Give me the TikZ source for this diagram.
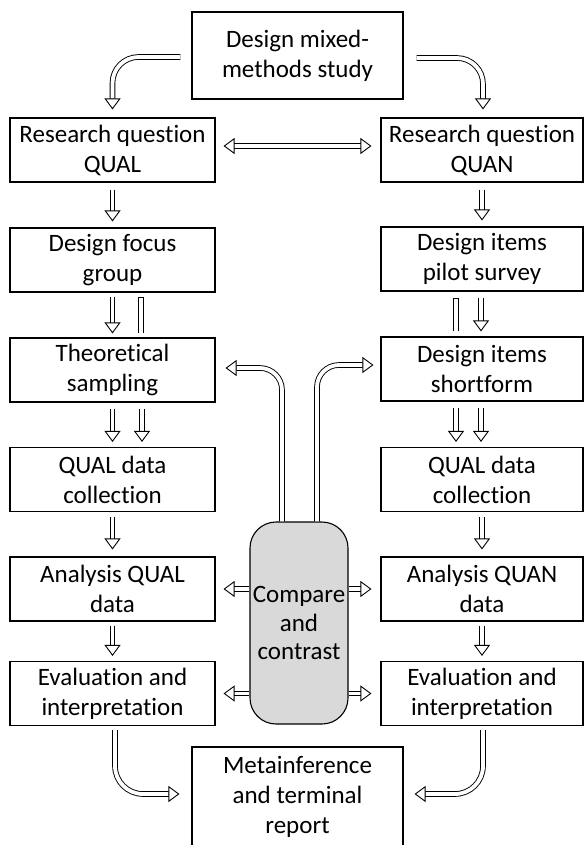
\documentclass[tikz,border=0pt]{standalone}
\usepackage{fontspec}
\setmainfont[Ligatures=NoCommon]{Carlito}
\usetikzlibrary{arrows.meta}
\definecolor{capgray}{RGB}{217,217,217}
\begin{document}
\begin{tikzpicture}[x=1pt,y=-1pt,
  box/.style={draw, line width=1.1pt, align=center, inner sep=0pt, font=\fontsize{25}{30}\selectfont},
  lbox/.style={box, minimum width=205pt, minimum height=64pt},
  rbox/.style={box, minimum width=202pt, minimum height=64pt},
  pipe/.style={double=white, double distance=3.8pt, line width=0.9pt},
  barpipe/.style={pipe, {Bar[width=5.6pt, line width=0.9pt]}-},
  arr/.style={pipe, -{Triangle[open, length=11pt, width=16pt, line width=0.9pt]}},
  darr/.style={pipe, {Triangle[open, length=11pt, width=16pt, line width=0.9pt]}-{Triangle[open, length=11pt, width=16pt, line width=0.9pt]}}
]
\useasboundingbox (0,0) rectangle (583,845);
\node[box, minimum width=211pt, minimum height=87pt] (t) at (297.5,55.5) {Design mixed-\\methods study};
\node[lbox] (rql) at (112.5,150) {Research question\\QUAL};
\node[rbox] (rqn) at (482,150) {Research question\\QUAN};
\node[lbox] (dfg) at (112.5,260) {Design focus\\group};
\node[rbox] (dip) at (482,259) {Design items\\pilot survey};
\node[lbox] (ts) at (112.5,370) {Theoretical\\sampling};
\node[rbox] (dis) at (482,369) {Design items\\shortform};
\node[lbox] (qcl) at (112.5,479.5) {QUAL data\\collection};
\node[rbox] (qcr) at (482,479.5) {QUAL data\\collection};
\node[lbox] (aql) at (112.5,589) {Analysis QUAL\\data};
\node[rbox] (aqn) at (482,589) {Analysis QUAN\\data};
\node[lbox] (evl) at (112.5,693.5) {Evaluation and\\interpretation};
\node[rbox] (evr) at (482,693.5) {Evaluation and\\interpretation};
\node[box, minimum width=211pt, minimum height=100pt] (meta) at (297.5,797) {Metainference\\and terminal\\report};
\node[box, fill=capgray, rounded corners=26pt, minimum width=98pt, minimum height=202pt, font=\fontsize{25}{28.5}\selectfont] (cc) at (299,623) {Compare\\and\\contrast};

% top curved arrows
\draw[arr, rounded corners=26pt] ([xshift=-11pt,yshift=-1.5pt]t.west) -| ([yshift=8pt]rql.north);
\draw[arr, rounded corners=26pt] ([xshift=13pt,yshift=-2.5pt]t.east) -| ([xshift=1pt,yshift=8pt]rqn.north);
% double arrow between research questions
\draw[darr] ([xshift=8pt,yshift=4pt]rql.east) -- ([xshift=-9pt,yshift=4pt]rqn.west);

% left column
\draw[arr] ([yshift=-7pt]rql.south) -- ([yshift=6pt]dfg.north);
\draw[arr] ([yshift=-4pt]dfg.south) -- ([yshift=4pt]ts.north);
\draw[barpipe] ([xshift=28.5pt,yshift=-4pt]dfg.south) -- ([xshift=28.5pt,yshift=4pt]ts.north);
\draw[arr] ([yshift=-6pt]ts.south) -- ([yshift=5pt]qcl.north);
\draw[arr] ([xshift=29.5pt,yshift=-6pt]ts.south) -- ([xshift=29.5pt,yshift=5pt]qcl.north);
\draw[arr] ([yshift=-5pt]qcl.south) -- ([yshift=7pt]aql.north);
\draw[arr] ([yshift=-4pt]aql.south) -- ([yshift=5pt]evl.north);

% right column
\draw[arr] ([yshift=-7pt]rqn.south) -- ([yshift=6pt]dip.north);
\draw[barpipe] ([xshift=-26pt,yshift=-6pt]dip.south) -- ([xshift=-26pt,yshift=5pt]dis.north);
\draw[arr] ([xshift=-1pt,yshift=-6pt]dip.south) -- ([xshift=-1pt,yshift=5pt]dis.north);
\draw[arr] ([xshift=-26pt,yshift=-6pt]dis.south) -- ([xshift=-26pt,yshift=5pt]qcr.north);
\draw[arr] ([xshift=-1pt,yshift=-6pt]dis.south) -- ([xshift=-1pt,yshift=5pt]qcr.north);
\draw[arr] ([yshift=-5pt]qcr.south) -- ([yshift=7pt]aqn.north);
\draw[arr] ([yshift=-4pt]aqn.south) -- ([yshift=5pt]evr.north);

% compare and contrast connections
\draw[arr, rounded corners=22pt] ([xshift=-17pt]cc.north) |- ([xshift=10pt,yshift=2pt]ts.east);
\draw[arr, rounded corners=22pt] ([xshift=18pt]cc.north) |- ([xshift=-7pt,yshift=4pt]dis.west);
\draw[arr] (cc.west |- aql.east) -- ([xshift=8pt]aql.east);
\draw[arr] (cc.east |- aqn.west) -- ([xshift=-9pt]aqn.west);
\draw[arr] (cc.west |- evl.east) -- ([xshift=8pt]evl.east);
\draw[arr] (cc.east |- evr.west) -- ([xshift=-9pt]evr.west);

% bottom curved arrows
\draw[arr, rounded corners=28pt] ([xshift=2.5pt,yshift=-4pt]evl.south) |- ([xshift=-12pt,yshift=3pt]meta.west);
\draw[arr, rounded corners=28pt] ([xshift=1pt,yshift=-4pt]evr.south) |- ([xshift=11pt,yshift=3pt]meta.east);
\end{tikzpicture}
\end{document}
